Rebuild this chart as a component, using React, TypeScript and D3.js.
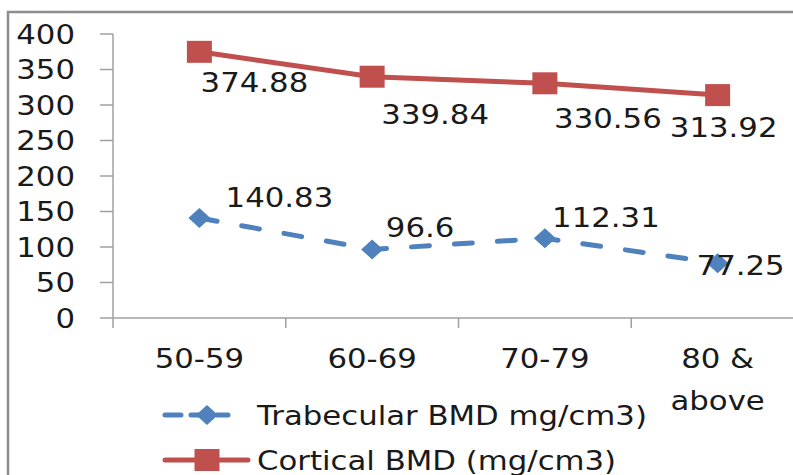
import { useMemo } from 'react';
import * as d3 from 'd3';

const categories = ['50-59', '60-69', '70-79', '80 & above'];
const trabecular = [140.83, 96.6, 112.31, 77.25];
const cortical = [374.88, 339.84, 330.56, 313.92];
const yTicks = [0, 50, 100, 150, 200, 250, 300, 350, 400];
const legendNames = ['Trabecular BMD mg/cm3)', 'Cortical BMD (mg/cm3)'];

// hand-placed data label offsets (label centre relative to the point)
const corticalLabelOffsets = [[55, 30], [63, 38], [63, 35], [6, 32]];
const trabecularLabelOffsets = [[80, -21], [48, -22], [61, -21], [23, 2]];

const W = 793;
const H = 475;
const FONT = 'DejaVu Sans, sans-serif';
const SX = 1.14; // the source text is horizontally stretched
const BLUE = '#4f81bd';
const RED = '#c0504d';
const INK = '#1a1a1a';

function Txt({ x, y, anchor = 'middle', children }: { x: number; y: number; anchor?: string; children: any }) {
  return (
    <text
      transform={`translate(${x},${y}) scale(${SX},1)`}
      textAnchor={anchor}
      dy="0.36em"
      fontFamily={FONT}
      fontSize={27}
      fill={INK}
    >
      {children}
    </text>
  );
}

function Diamond({ x, y }: { x: number; y: number }) {
  return <path d={`M${x},${y - 10} L${x + 11},${y} L${x},${y + 10} L${x - 11},${y} Z`} fill={BLUE} />;
}

function Square({ x, y }: { x: number; y: number }) {
  return <rect x={x - 12.5} y={y - 11} width={25} height={22} fill={RED} />;
}

export default function App() {
  const x = useMemo(() => d3.scaleBand().domain(categories).range([113, 804]).padding(0), []);
  const y = useMemo(() => d3.scaleLinear().domain([0, 400]).range([318, 34]), []);
  const cx = (c: string) => (x(c) as number) + x.bandwidth() / 2;

  const line = d3.line<number>()
    .x((_, i) => cx(categories[i]))
    .y(d => y(d));

  const bounds = [...categories.map(c => x(c) as number), 804];

  return (
    <svg width={W} height={H} style={{ position: 'absolute', left: 0, top: 0, background: '#fff' }}>
      {/* outer chart frame (cropped on right and bottom) */}
      <path d={`M8,${H} V12 H${W}`} fill="none" stroke="#8c8c8c" strokeWidth={2.5} />

      {/* y axis */}
      <line x1={113} x2={113} y1={y(400)} y2={y(0)} stroke="#a0a0a0" strokeWidth={1.5} />
      {yTicks.map(t => (
        <g key={t}>
          <line x1={100} x2={113} y1={y(t)} y2={y(t)} stroke="#a0a0a0" strokeWidth={1.5} />
          <Txt x={75} y={y(t)} anchor="end">{t}</Txt>
        </g>
      ))}

      {/* x axis */}
      <line x1={113} x2={W} y1={y(0)} y2={y(0)} stroke="#a0a0a0" strokeWidth={1.5} />
      {bounds.map((b, i) => (
        <line key={i} x1={b} x2={b} y1={y(0)} y2={y(0) + 10} stroke="#a0a0a0" strokeWidth={1.5} />
      ))}
      {categories.map(c => {
        const parts = c === '80 & above' ? ['80 &', 'above'] : [c];
        return parts.map((p, j) => (
          <Txt key={c + j} x={cx(c)} y={358 + j * 42}>{p}</Txt>
        ));
      })}

      {/* cortical series */}
      <path d={line(cortical) as string} fill="none" stroke={RED} strokeWidth={5} />
      {cortical.map((v, i) => <Square key={i} x={cx(categories[i])} y={y(v)} />)}

      {/* trabecular series */}
      <path
        d={line(trabecular) as string}
        fill="none"
        stroke={BLUE}
        strokeWidth={5}
        strokeDasharray="18 25"
        strokeLinecap="round"
      />
      {trabecular.map((v, i) => <Diamond key={i} x={cx(categories[i])} y={y(v)} />)}

      {/* data labels */}
      {cortical.map((v, i) => (
        <Txt key={'c' + i} x={cx(categories[i]) + corticalLabelOffsets[i][0]} y={y(v) + corticalLabelOffsets[i][1]}>
          {v}
        </Txt>
      ))}
      {trabecular.map((v, i) => (
        <Txt key={'t' + i} x={cx(categories[i]) + trabecularLabelOffsets[i][0]} y={y(v) + trabecularLabelOffsets[i][1]}>
          {v}
        </Txt>
      ))}

      {/* legend */}
      <g>
        <line x1={165} x2={228} y1={415} y2={415} stroke={BLUE} strokeWidth={5} strokeDasharray="16 10" strokeLinecap="round" />
        <Diamond x={207} y={415} />
        <Txt x={257} y={415} anchor="start">{legendNames[0]}</Txt>
        <line x1={165} x2={248} y1={460} y2={460} stroke={RED} strokeWidth={5} strokeLinecap="round" />
        <Square x={207} y={460} />
        <Txt x={257} y={460} anchor="start">{legendNames[1]}</Txt>
      </g>
    </svg>
  );
}
